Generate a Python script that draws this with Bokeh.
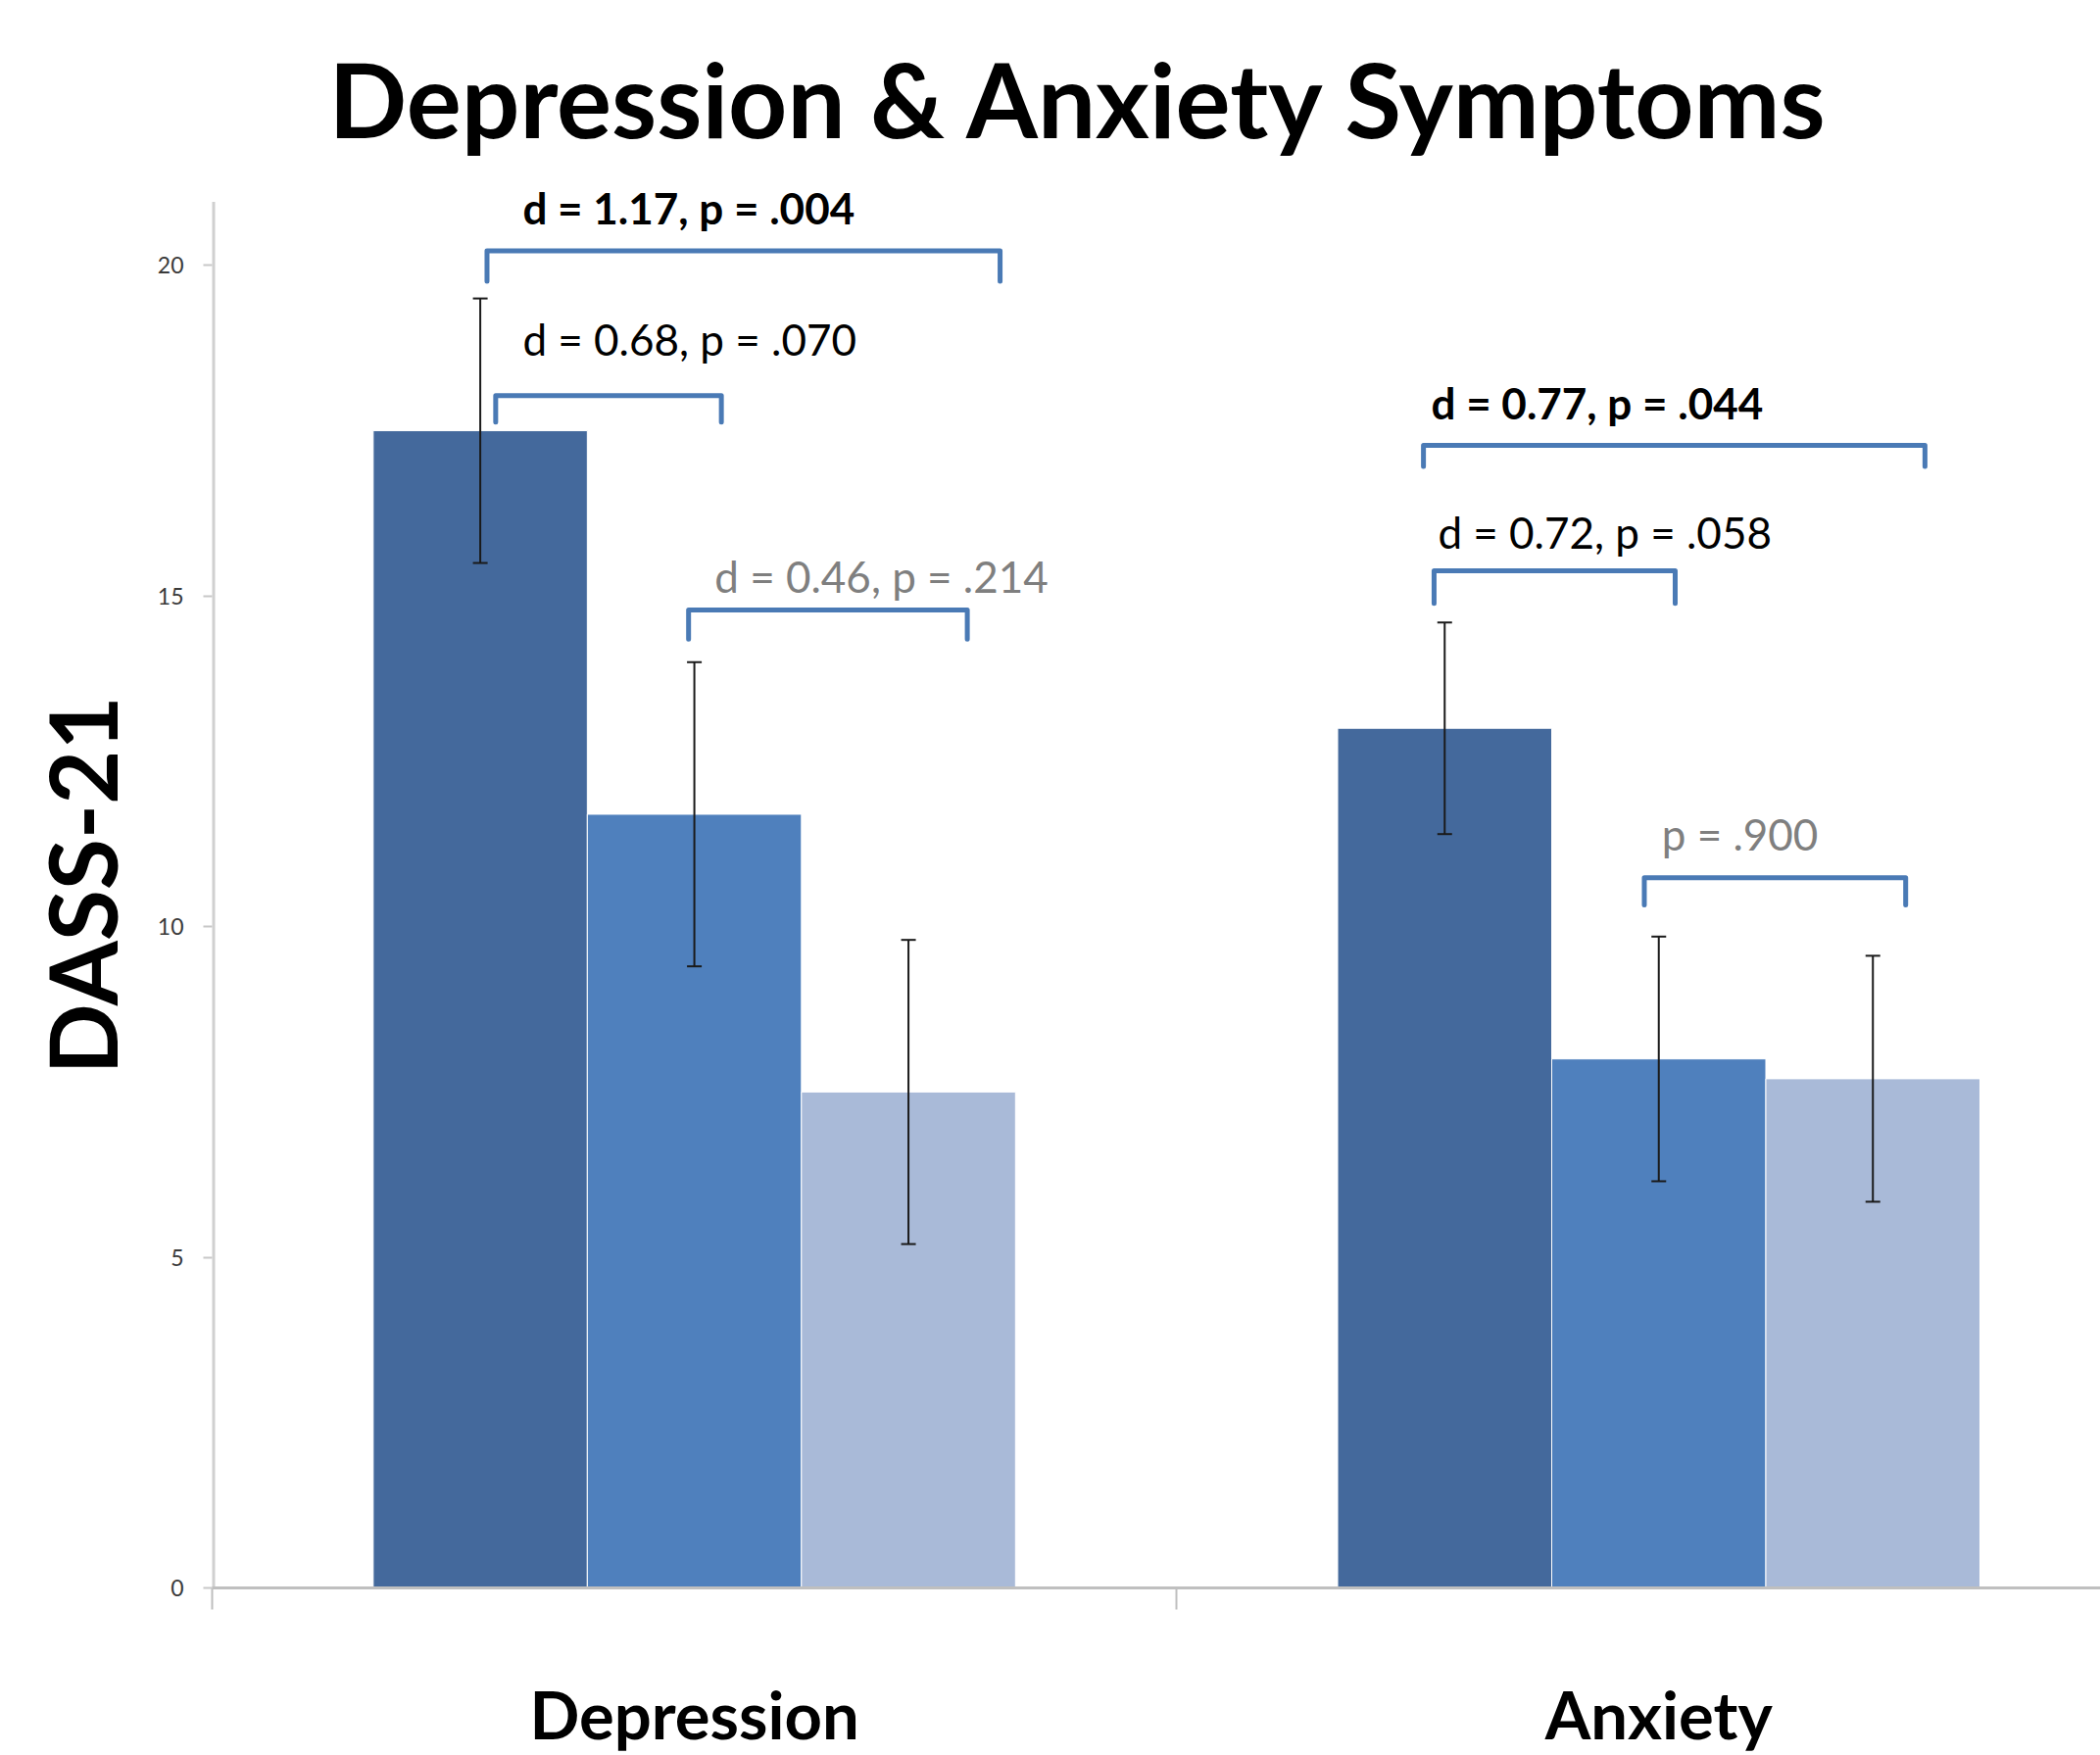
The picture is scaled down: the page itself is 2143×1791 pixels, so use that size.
from bokeh.plotting import figure
from bokeh.models import (ColumnDataSource, Range1d, FixedTicker, LinearAxis, Label,
                          Whisker, TeeHead, Title)
from bokeh.embed import file_html
from bokeh.resources import INLINE

# ---------------- data ----------------
categories = ["Depression", "Anxiety"]
cat_centers = [0.5, 1.5]
group_offsets = [-0.222, 0.0, 0.222]
bar_colors = ["#44699C", "#4F80BD", "#A9BAD8"]

# mean DASS-21 scores per group (3 groups) for each category
group1_means = [17.5, 13.0]
group2_means = [11.7, 8.0]
group3_means = [7.5, 7.7]
group1_err = [2.0, 1.6]
group2_err = [2.3, 1.85]
group3_err = [2.3, 1.86]

y_ticks = [0, 5, 10, 15, 20]
y_axis_top = 20.96

# significance annotations
ann_texts = ["d = 1.17, p = .004", "d = 0.68, p = .070", "d = 0.46, p = .214",
             "d = 0.77, p = .044", "d = 0.72, p = .058", "p = .900"]
ann_bold = [True, False, False, True, False, False]
ann_gray = [False, False, True, False, False, True]
ann_text_x = [0.322, 0.322, 0.521, 1.264, 1.271, 1.503]
ann_text_y = [20.87, 18.89, 15.30, 17.93, 15.97, 11.41]
bracket_x0 = [0.285, 0.294, 0.494, 1.256, 1.267, 1.485]
bracket_x1 = [0.817, 0.528, 0.783, 1.776, 1.517, 1.756]
bracket_top = [20.22, 18.03, 14.79, 17.28, 15.38, 10.74]
bracket_leg = [0.46, 0.40, 0.44, 0.32, 0.49, 0.41]

FONT = "Lato"

p = figure(width=2143, height=1791, output_backend="svg", toolbar_location=None,
           x_range=Range1d(0, 1.958), y_range=Range1d(0, 21.25),
           min_border_left=216, min_border_right=0, min_border_top=186,
           min_border_bottom=171, x_axis_type=None, y_axis_type=None)
p.outline_line_color = None
p.xgrid.visible = False
p.ygrid.visible = False
p.background_fill_color = "white"
p.border_fill_color = "white"

p.title = Title(text="Depression & Anxiety Symptoms", align="left", offset=119,
                text_font=FONT, text_font_size="105px", text_font_style="bold",
                text_color="black", standoff=47)

# y axis line (drawn only up to the axis top)
p.segment(x0=[0], y0=[0], x1=[0], y1=[y_axis_top], line_color="#D0D0D0", line_width=6)

# bars
means = [group1_means, group2_means, group3_means]
errs = [group1_err, group2_err, group3_err]
for g in range(3):
    xs = [c + group_offsets[g] for c in cat_centers]
    src = ColumnDataSource(dict(x=xs, top=means[g],
                                upper=[m + e for m, e in zip(means[g], errs[g])],
                                lower=[m - e for m, e in zip(means[g], errs[g])]))
    p.vbar(x="x", top="top", bottom=0, width=0.222, source=src,
           fill_color=bar_colors[g], line_color="white", line_width=1)
    w = Whisker(base="x", upper="upper", lower="lower", source=src,
                line_color="#1a1a1a", line_width=2, level="overlay",
                upper_head=TeeHead(size=15, line_color="#1a1a1a", line_width=2),
                lower_head=TeeHead(size=15, line_color="#1a1a1a", line_width=2))
    p.add_layout(w)

# brackets
bx = [[a, a, b, b] for a, b in zip(bracket_x0, bracket_x1)]
by = [[t - l, t, t, t - l] for t, l in zip(bracket_top, bracket_leg)]
p.multi_line(xs=bx, ys=by, line_color="#4A7AB5", line_width=5, line_join="round",
             line_cap="round")

for t, x, y, b, g in zip(ann_texts, ann_text_x, ann_text_y, ann_bold, ann_gray):
    p.add_layout(Label(x=x, y=y, text=t, text_font=FONT, text_font_size="44px",
                       text_font_style="bold" if b else "normal",
                       text_color="#7F7F7F" if g else "black",
                       text_baseline="middle", text_align="left"))

# y axis
yax = LinearAxis(ticker=FixedTicker(ticks=y_ticks), axis_label="DASS-21",
                 axis_label_text_font=FONT, axis_label_text_font_size="95px",
                 axis_label_text_font_style="bold", axis_label_text_color="black",
                 axis_label_standoff=18,
                 major_label_text_font=FONT, major_label_text_font_size="23px",
                 major_label_text_color="#3a3a3a", major_label_standoff=20,
                 axis_line_color=None,
                 major_tick_line_color="#C8C8C8", major_tick_line_width=2,
                 major_tick_in=0, major_tick_out=9, minor_tick_line_color=None)
p.add_layout(yax, "left")

# x axis: category boundaries with ticks
xax = LinearAxis(ticker=FixedTicker(ticks=[0, 1, 2]),
                 major_label_overrides={0: "", 1: "", 2: ""},
                 major_label_text_font_size="1px", major_label_standoff=0,
                 axis_line_color="#BFBFBF", axis_line_width=3,
                 major_tick_line_color="#BFBFBF", major_tick_line_width=2,
                 major_tick_in=0, major_tick_out=22, minor_tick_line_color=None)
p.add_layout(xax, "below")

# x axis: category names
cax = LinearAxis(ticker=FixedTicker(ticks=cat_centers),
                 major_label_overrides={c: n for c, n in zip(cat_centers, categories)},
                 major_label_text_font=FONT, major_label_text_font_size="67px",
                 major_label_text_font_style="bold", major_label_text_color="black",
                 major_label_standoff=66, axis_line_color=None,
                 major_tick_line_color=None, minor_tick_line_color=None,
                 major_tick_in=0, major_tick_out=0)
p.add_layout(cax, "below")

open("out.html", "w").write(file_html(p, INLINE))
